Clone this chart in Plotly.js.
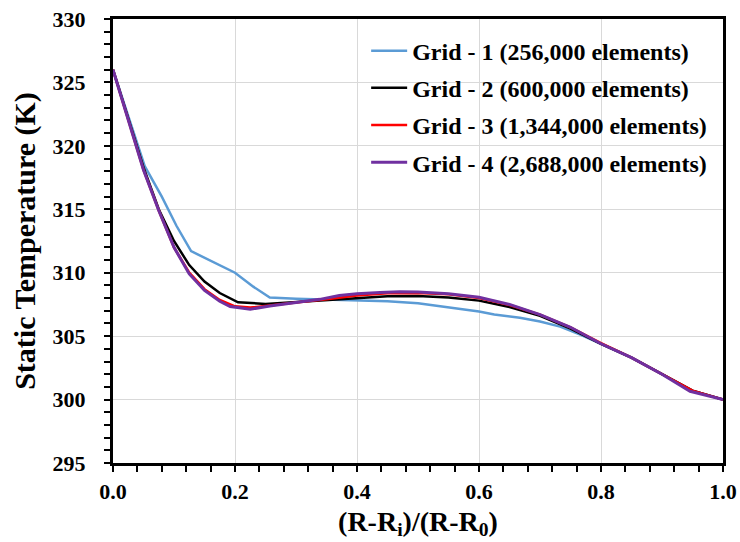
<!DOCTYPE html>
<html>
<head>
<meta charset="utf-8">
<script src="https://cdn.plot.ly/plotly-3.0.1.min.js"></script>
<style>html,body{margin:0;padding:0;background:#fff;}#chart{width:740px;height:542px;}</style>
</head>
<body>
<div id="chart"></div>
<script>
const seriesNames = [
  "Grid - 1 (256,000 elements)",
  "Grid - 2 (600,000 elements)",
  "Grid - 3 (1,344,000 elements)",
  "Grid - 4 (2,688,000 elements)"
];

const x1 = [0, 0.052, 0.08, 0.104, 0.128, 0.16, 0.2, 0.23, 0.257, 0.3, 0.35, 0.4, 0.45, 0.5, 0.55, 0.6, 0.625, 0.667, 0.7, 0.733, 0.767, 0.8, 0.85, 0.9, 0.95, 1.0];
const y1 = [326, 318.4, 316.0, 313.7, 311.7, 310.95, 310.0, 308.9, 308.05, 307.95, 307.9, 307.85, 307.75, 307.6, 307.3, 306.95, 306.7, 306.45, 306.15, 305.75, 305.1, 304.4, 303.3, 302.0, 300.7, 300.0];

const x2 = [0, 0.025, 0.05, 0.075, 0.1, 0.125, 0.15, 0.175, 0.205, 0.25, 0.3, 0.35, 0.4, 0.45, 0.5, 0.55, 0.6, 0.65, 0.7, 0.75, 0.8, 0.85, 0.9, 0.95, 1.0];
const y2 = [326, 322.2, 318.3, 315.0, 312.5, 310.6, 309.3, 308.4, 307.67, 307.54, 307.7, 307.88, 308.0, 308.15, 308.17, 308.05, 307.8, 307.3, 306.6, 305.6, 304.4, 303.3, 302.0, 300.7, 300.0];

const x3 = [0, 0.025, 0.05, 0.075, 0.1, 0.125, 0.15, 0.175, 0.2, 0.225, 0.25, 0.3, 0.35, 0.4, 0.45, 0.5, 0.55, 0.6, 0.65, 0.7, 0.75, 0.8, 0.85, 0.9, 0.95, 1.0];
const y3 = [326, 322.1, 318.1, 314.9, 312.0, 310.0, 308.7, 307.85, 307.35, 307.25, 307.4, 307.65, 307.9, 308.2, 308.38, 308.4, 308.3, 308.0, 307.45, 306.7, 305.7, 304.45, 303.3, 302.0, 300.7, 300.0];

const x4 = [0, 0.025, 0.05, 0.075, 0.1, 0.125, 0.15, 0.175, 0.192, 0.225, 0.257, 0.3, 0.339, 0.371, 0.4, 0.438, 0.47, 0.5, 0.55, 0.6, 0.65, 0.7, 0.733, 0.75, 0.8, 0.85, 0.9, 0.946, 1.0];
const y4 = [326, 322.1, 318.1, 314.9, 312.0, 309.9, 308.6, 307.75, 307.33, 307.12, 307.38, 307.65, 307.9, 308.2, 308.35, 308.45, 308.5, 308.48, 308.35, 308.07, 307.5, 306.7, 306.05, 305.7, 304.4, 303.3, 302.0, 300.65, 300.0];

const colors = ["#5b9bd5", "#000000", "#ff0000", "#7030a0"];
const widths = [2.5, 2.5, 2.5, 3];
const xs = [x1, x2, x3, x4];
const ys = [y1, y2, y3, y4];

const xTickVals = [0, 0.2, 0.4, 0.6, 0.8, 1.0];
const xTickText = ["0.0", "0.2", "0.4", "0.6", "0.8", "1.0"];
const yTickVals = [295, 300, 305, 310, 315, 320, 325, 330];

const FONT = "'Liberation Serif', 'Times New Roman', serif";

const traces = seriesNames.map((n, i) => ({
  x: xs[i], y: ys[i], name: n, type: "scatter", mode: "lines",
  line: {color: colors[i], width: widths[i]},
  legendgroup: "g" + i
}));

const layout = {
  width: 740, height: 542,
  margin: {l: 113, r: 17, t: 19, b: 79},
  paper_bgcolor: "#fff", plot_bgcolor: "#fff",
  font: {family: FONT, color: "#000", size: 18, weight: "bold"},
  showlegend: true,
  legend: {
    x: 0.415, y: 0.9785, xanchor: "left", yanchor: "top",
    bgcolor: "rgba(0,0,0,0)", borderwidth: 0,
    font: {family: FONT, size: 24, color: "#000", weight: "bold"},
    traceorder: "grouped", tracegroupgap: 3, itemwidth: 36
  },
  xaxis: {
    range: [0, 1], tickvals: xTickVals, ticktext: xTickText,
    showline: true, linecolor: "#000", linewidth: 3, mirror: true,
    ticks: "outside", ticklen: 6, tickwidth: 2, tickcolor: "#000",
    minor: {dtick: 0.04, ticks: "outside", ticklen: 6, tickwidth: 2, tickcolor: "#000", showgrid: false},
    showgrid: true, gridcolor: "#d9d9d9", gridwidth: 1, zeroline: false,
    ticklabelstandoff: 1,
    tickfont: {family: FONT, size: 22, color: "#000", weight: "bold"},
    title: {text: "(R-R<sub>i</sub>)/(R-R<sub>0</sub>)", font: {family: FONT, size: 28, color: "#000", weight: "bold"}, standoff: 8}
  },
  yaxis: {
    range: [295, 330], tickvals: yTickVals,
    showline: true, linecolor: "#000", linewidth: 3, mirror: true,
    ticks: "outside", ticklen: 6, tickwidth: 2, tickcolor: "#000",
    minor: {dtick: 1, ticks: "outside", ticklen: 6, tickwidth: 2, tickcolor: "#000", showgrid: false},
    showgrid: true, gridcolor: "#d9d9d9", gridwidth: 1, zeroline: false,
    ticklabelstandoff: 14,
    tickfont: {family: FONT, size: 22, color: "#000", weight: "bold"},
    title: {text: "Static Temperature (K)", font: {family: FONT, size: 30, color: "#000", weight: "bold"}, standoff: 9}
  }
};

Plotly.newPlot("chart", traces, layout, {displayModeBar: false, responsive: false});
</script>
</body>
</html>
